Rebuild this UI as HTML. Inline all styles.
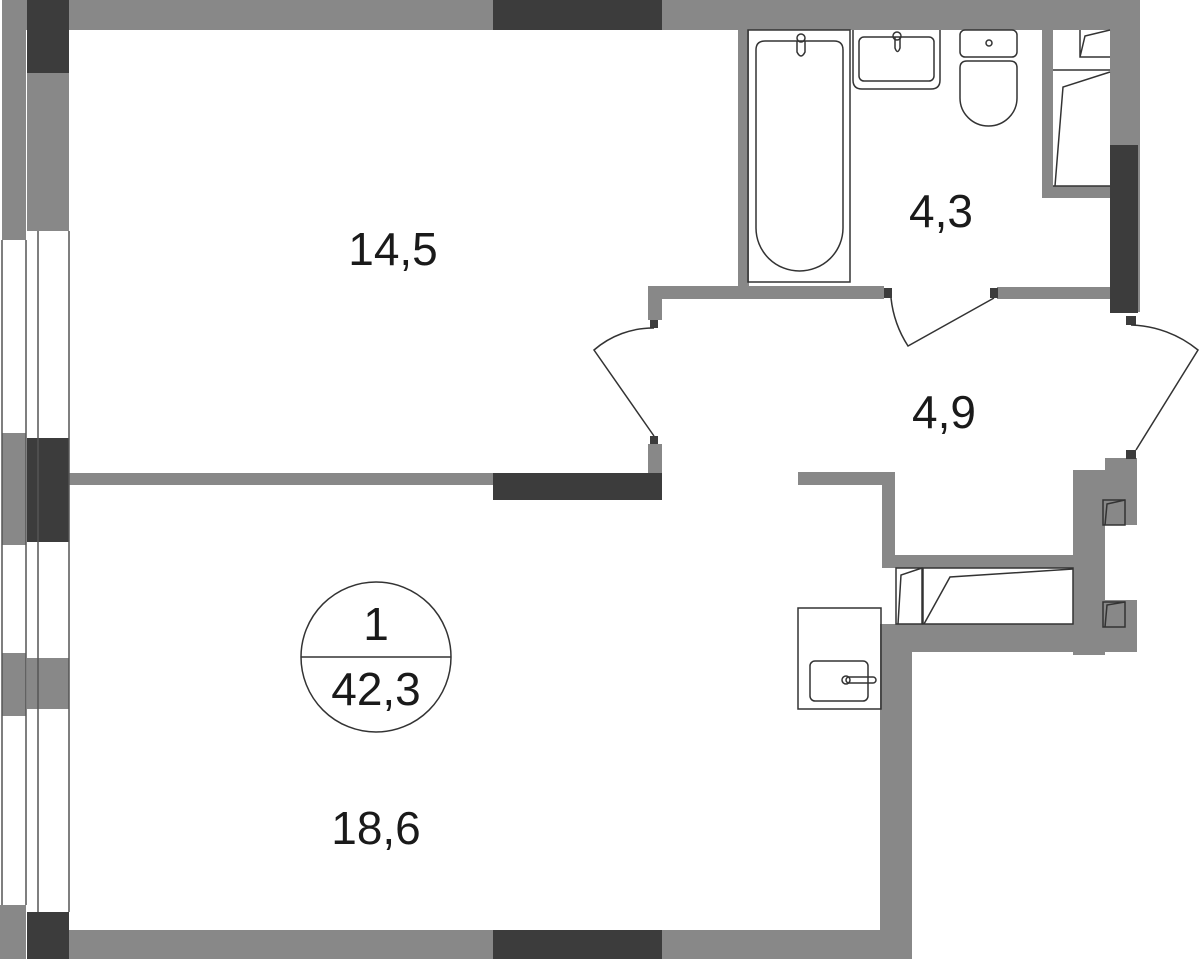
<!DOCTYPE html>
<html><head><meta charset="utf-8"><style>
html,body{margin:0;padding:0;background:#fff;}
svg{display:block;}
text{font-family:"Liberation Sans",sans-serif;fill:#1a1a1a;}
</style></head><body>
<svg width="1200" height="959" viewBox="0 0 1200 959" xmlns="http://www.w3.org/2000/svg">
<g fill="#888">
<rect x="2" y="0" width="24" height="240"/>
<rect x="27" y="73" width="42" height="158"/>
<rect x="2" y="433" width="24" height="112"/>
<rect x="2" y="653" width="24" height="63"/>
<rect x="27" y="658" width="42" height="51"/>
<rect x="0" y="905" width="26" height="54"/>
<rect x="26" y="0" width="1114" height="30"/>
<rect x="1110" y="0" width="30" height="312"/>
<rect x="738" y="30" width="11" height="260"/>
<rect x="648" y="286" width="236" height="13"/>
<rect x="997" y="287" width="113" height="12"/>
<rect x="648" y="286" width="14" height="34"/>
<rect x="648" y="444" width="14" height="30"/>
<rect x="1042" y="30" width="11" height="168"/>
<rect x="1042" y="186" width="68" height="12"/>
<rect x="69" y="473" width="424" height="12"/>
<rect x="798" y="472" width="97" height="13"/>
<rect x="882" y="472" width="13" height="96"/>
<rect x="895" y="555" width="180" height="13"/>
<rect x="1073" y="470" width="32" height="185"/>
<rect x="1105" y="458" width="32" height="67"/>
<rect x="1105" y="600" width="32" height="52"/>
<rect x="880" y="624" width="257" height="28"/>
<rect x="880" y="624" width="32" height="335"/>
<rect x="69" y="930" width="843" height="29"/>
</g>
<g fill="#3c3c3c">
<rect x="27" y="0" width="42" height="73"/>
<rect x="493" y="0" width="169" height="30"/>
<rect x="1110" y="145" width="28" height="168"/>
<rect x="27" y="438" width="42" height="104"/>
<rect x="493" y="473" width="169" height="27"/>
<rect x="27" y="912" width="42" height="47"/>
<rect x="493" y="930" width="169" height="29"/>
<rect x="884" y="288" width="8" height="10"/>
<rect x="990" y="288" width="8" height="10"/>
<rect x="650" y="320" width="8" height="8"/>
<rect x="650" y="436" width="8" height="8"/>
<rect x="1126" y="316" width="10" height="9"/>
<rect x="1126" y="450" width="10" height="9"/>
</g>
<g fill="none" stroke="#555" stroke-width="1.5">
<line x1="2" y1="240" x2="2" y2="905"/>
<line x1="26" y1="240" x2="26" y2="905"/>
<line x1="38" y1="231" x2="38" y2="912"/>
<line x1="69" y1="231" x2="69" y2="912"/>
</g>
<g fill="none" stroke="#333" stroke-width="1.5">
<path d="M654 328 A90 90 0 0 0 594 350 L654 436"/>
<path d="M891 298 A110 110 0 0 0 908 346 L994 298"/>
<path d="M1131 325 A110 110 0 0 1 1198 350 L1136 450"/>
<rect x="748" y="30" width="102" height="252"/>
<path d="M756 50 Q756 41 765 41 L834 41 Q843 41 843 50 L843 228 A43.5 43 0 0 1 756 228 Z"/>
<path d="M797 41 L797 52 Q801 60 805 52 L805 41"/>
<circle cx="801" cy="38" r="4"/>
<path d="M853 30 L853 80 Q853 89 862 89 L931 89 Q940 89 940 80 L940 30"/>
<rect x="859" y="37" width="75" height="44" rx="5"/>
<path d="M895 37 L895 48 Q897.5 55 900 48 L900 37"/>
<circle cx="897" cy="36" r="4"/>
<rect x="960" y="30" width="57" height="27" rx="5"/>
<path d="M960 68 Q960 61 967 61 L1010 61 Q1017 61 1017 68 L1017 98 A28.5 28 0 0 1 960 98 Z"/>
<circle cx="989" cy="43" r="3"/>
<path d="M1080 30 L1080 57 L1110 57 M1080 57 L1085 36 L1110 30"/>
<path d="M1053 70 L1110 70 M1053 186 L1110 186 M1055 186 L1063 87 L1110 72"/>
<rect x="896" y="568" width="26" height="56"/>
<path d="M898 624 L901 575 L922 568"/>
<rect x="923" y="568" width="150" height="56"/>
<path d="M924 624 L950 577 L1073 569"/>
<rect x="1103" y="500" width="22" height="25"/>
<path d="M1105 525 L1107 504 L1125 500"/>
<rect x="1103" y="602" width="22" height="25"/>
<path d="M1105 627 L1107 605 L1125 602"/>
<rect x="798" y="608" width="83" height="101"/>
<rect x="810" y="661" width="58" height="40" rx="5"/>
<circle cx="846" cy="680" r="4"/>
<rect x="846" y="677" width="30" height="6" rx="3"/>
<circle cx="376" cy="657" r="75"/>
<line x1="301" y1="657" x2="451" y2="657"/>
</g>
<g font-size="46" text-anchor="middle">
<text x="393" y="265">14,5</text>
<text x="941" y="227">4,3</text>
<text x="944" y="428">4,9</text>
<text x="376" y="844">18,6</text>
<text x="376" y="640">1</text>
<text x="376" y="705">42,3</text>
</g>
</svg>
</body></html>
